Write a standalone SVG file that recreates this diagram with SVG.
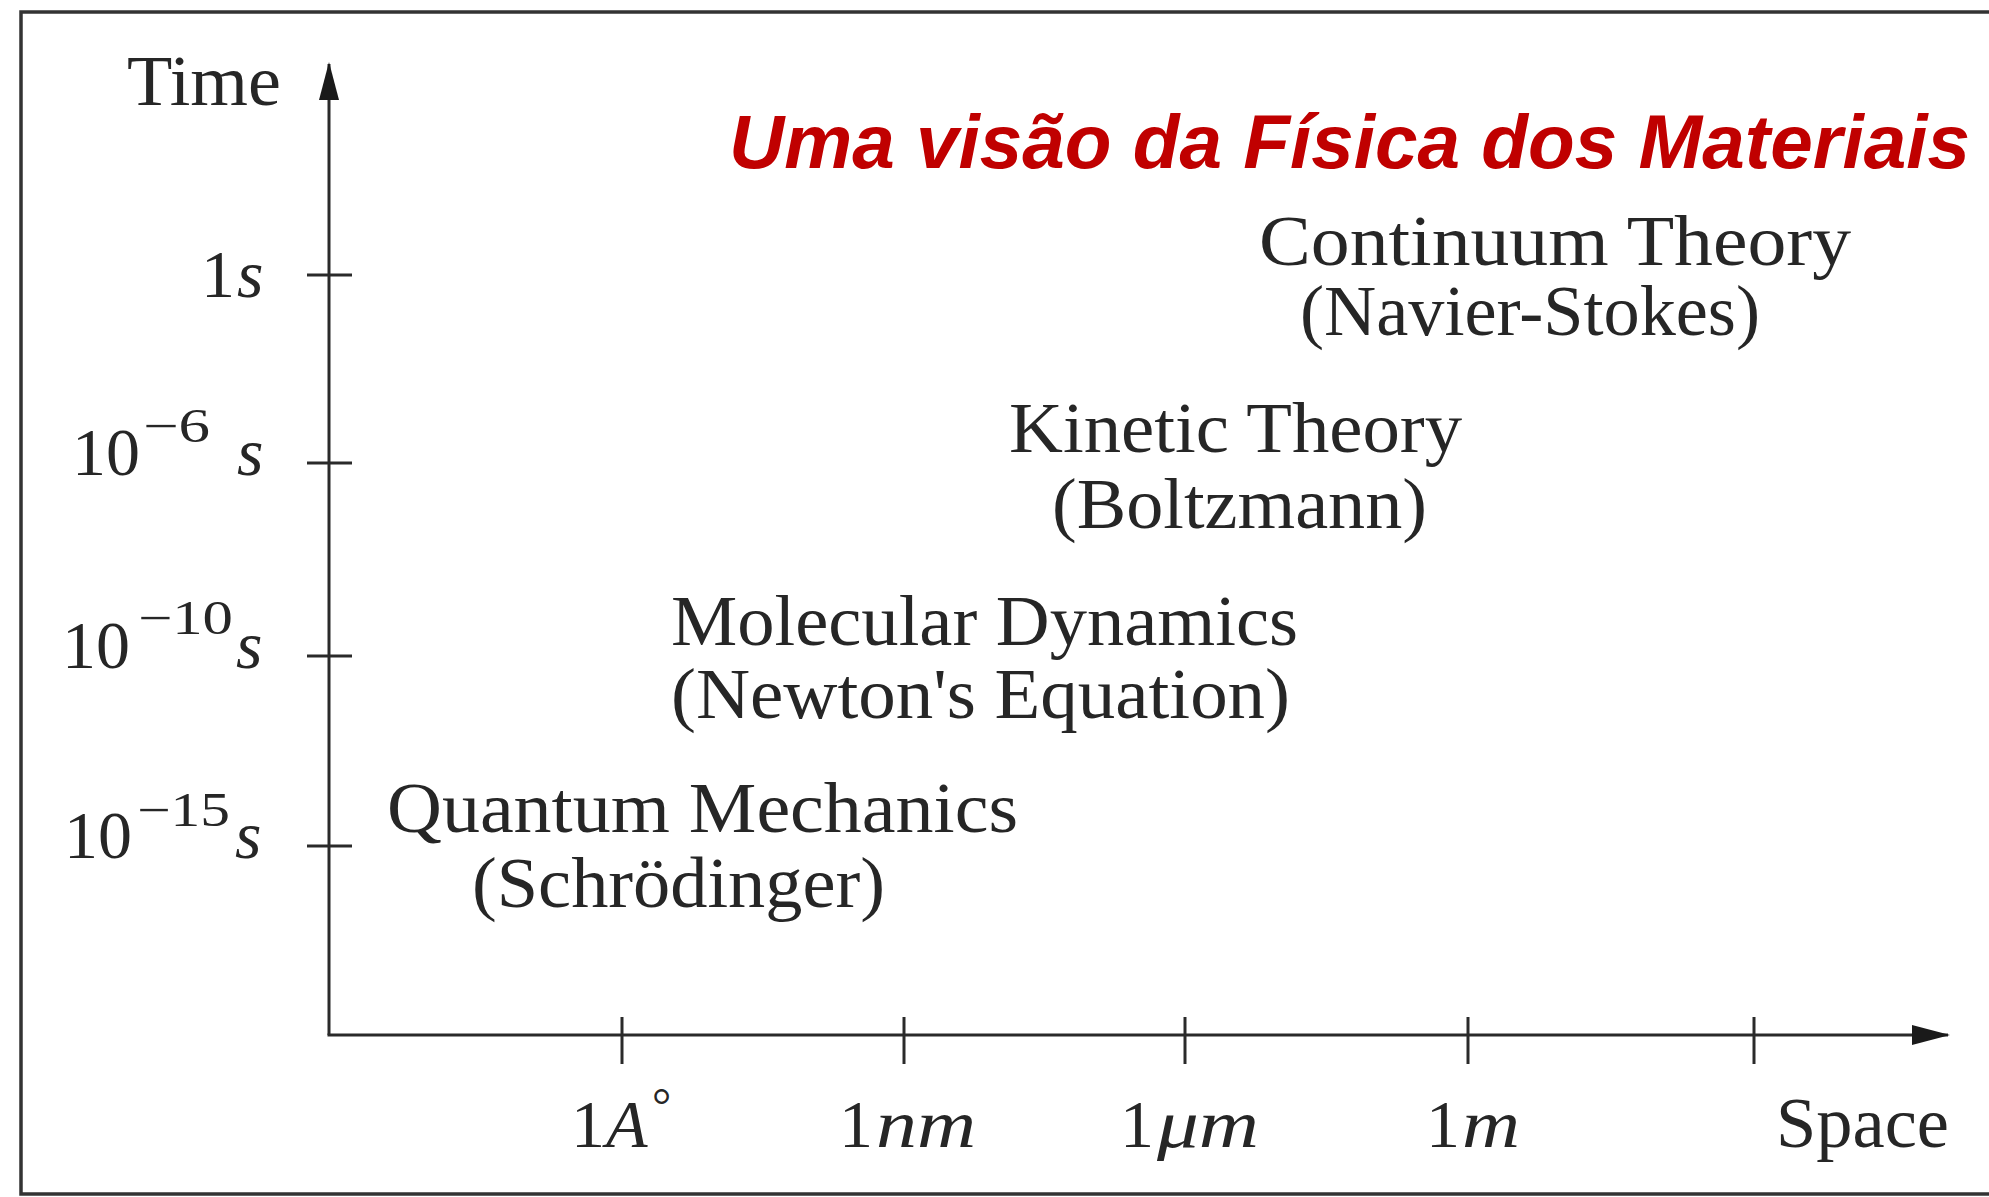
<svg xmlns="http://www.w3.org/2000/svg" width="1989" height="1197" viewBox="0 0 1989 1197">
<style>
.t{font-family:"Liberation Serif","Times New Roman",serif;fill:#262626}
.lab{font-size:72px}
.tick{font-size:68px}
.sup{font-size:48px}
.it{font-style:italic}
.ax{stroke:#2a2a2a;stroke-width:3;fill:none}
.title{font-family:"Liberation Sans",Arial,sans-serif;font-weight:bold;font-style:italic;font-size:76px;fill:#C00000}
</style>
<defs>
<marker id="arr" markerUnits="userSpaceOnUse" markerWidth="38" markerHeight="20" refX="36" refY="10" orient="auto">
<path d="M0,0 L38,10 L0,20 Z" fill="#1a1a1a"/>
</marker>
</defs>
<rect width="1989" height="1197" fill="#ffffff"/>
<path d="M1995,12 H21 V1194 H1995" stroke="#333" stroke-width="3.5" fill="none"/>
<g id="connectors">
<line class="ax" x1="329" y1="1035" x2="329" y2="64" marker-end="url(#arr)"/>
<line class="ax" x1="327.5" y1="1035" x2="1948" y2="1035" marker-end="url(#arr)"/>
<g class="ax">
<line x1="307" y1="275" x2="352" y2="275"/>
<line x1="307" y1="463" x2="352" y2="463"/>
<line x1="307" y1="656" x2="352" y2="656"/>
<line x1="307" y1="846" x2="352" y2="846"/>
<line x1="622" y1="1017" x2="622" y2="1064"/>
<line x1="904" y1="1017" x2="904" y2="1064"/>
<line x1="1185" y1="1017" x2="1185" y2="1064"/>
<line x1="1468" y1="1017" x2="1468" y2="1064"/>
<line x1="1754" y1="1017" x2="1754" y2="1064"/>
</g>
</g>
<g id="title"><text class="title" x="729" y="168" textLength="1241" lengthAdjust="spacingAndGlyphs">Uma visão da Física dos Materiais</text></g>
<g id="axis-time-label"><text class="t lab" x="127" y="105" textLength="154" lengthAdjust="spacingAndGlyphs">Time</text></g>
<g id="axis-space-label"><text class="t lab" x="1776" y="1147" textLength="173" lengthAdjust="spacingAndGlyphs">Space</text></g>
<g id="tick-1s">
<text class="t tick" x="201" y="297">1</text><text class="t tick it" x="237" y="297">s</text>
</g>
<g id="tick-1e-6">
<text class="t tick" x="72" y="475">10</text><text class="t sup" x="143" y="442" textLength="67" lengthAdjust="spacingAndGlyphs">−6</text><text class="t tick it" x="237" y="475">s</text>
</g>
<g id="tick-1e-10">
<text class="t tick" x="62" y="668">10</text><text class="t sup" x="138" y="634" textLength="95" lengthAdjust="spacingAndGlyphs">−10</text><text class="t tick it" x="236" y="668">s</text>
</g>
<g id="tick-1e-15">
<text class="t tick" x="64" y="858">10</text><text class="t sup" x="137" y="826" textLength="93" lengthAdjust="spacingAndGlyphs">−15</text><text class="t tick it" x="235" y="858">s</text>
</g>
<g id="tick-angstrom">
<text class="t tick" x="571" y="1147">1</text><text class="t tick it" x="606" y="1147">A</text><text class="t sup" x="652" y="1122">°</text>
</g>
<g id="tick-nm">
<text class="t tick" x="839" y="1147">1</text><text class="t tick it" x="876" y="1147" textLength="100" lengthAdjust="spacingAndGlyphs">nm</text>
</g>
<g id="tick-um">
<text class="t tick" x="1120" y="1147">1</text><text class="t tick it" x="1157" y="1147" textLength="102" lengthAdjust="spacingAndGlyphs">μm</text>
</g>
<g id="tick-m">
<text class="t tick" x="1426" y="1147">1</text><text class="t tick it" x="1462" y="1147" textLength="58" lengthAdjust="spacingAndGlyphs">m</text>
</g>
<g id="node-continuum">
<text class="t lab" x="1259" y="265" textLength="592" lengthAdjust="spacingAndGlyphs">Continuum Theory</text>
<text class="t lab" x="1300" y="335" textLength="460" lengthAdjust="spacingAndGlyphs">(Navier-Stokes)</text>
</g>
<g id="node-kinetic">
<text class="t lab" x="1009" y="452" textLength="453" lengthAdjust="spacingAndGlyphs">Kinetic Theory</text>
<text class="t lab" x="1052" y="528" textLength="375" lengthAdjust="spacingAndGlyphs">(Boltzmann)</text>
</g>
<g id="node-md">
<text class="t lab" x="671" y="645" textLength="627" lengthAdjust="spacingAndGlyphs">Molecular Dynamics</text>
<text class="t lab" x="671" y="718" textLength="619" lengthAdjust="spacingAndGlyphs">(Newton's Equation)</text>
</g>
<g id="node-qm">
<text class="t lab" x="387" y="832" textLength="631" lengthAdjust="spacingAndGlyphs">Quantum Mechanics</text>
<text class="t lab" x="472" y="907" textLength="413" lengthAdjust="spacingAndGlyphs">(Schrödinger)</text>
</g>
</svg>
